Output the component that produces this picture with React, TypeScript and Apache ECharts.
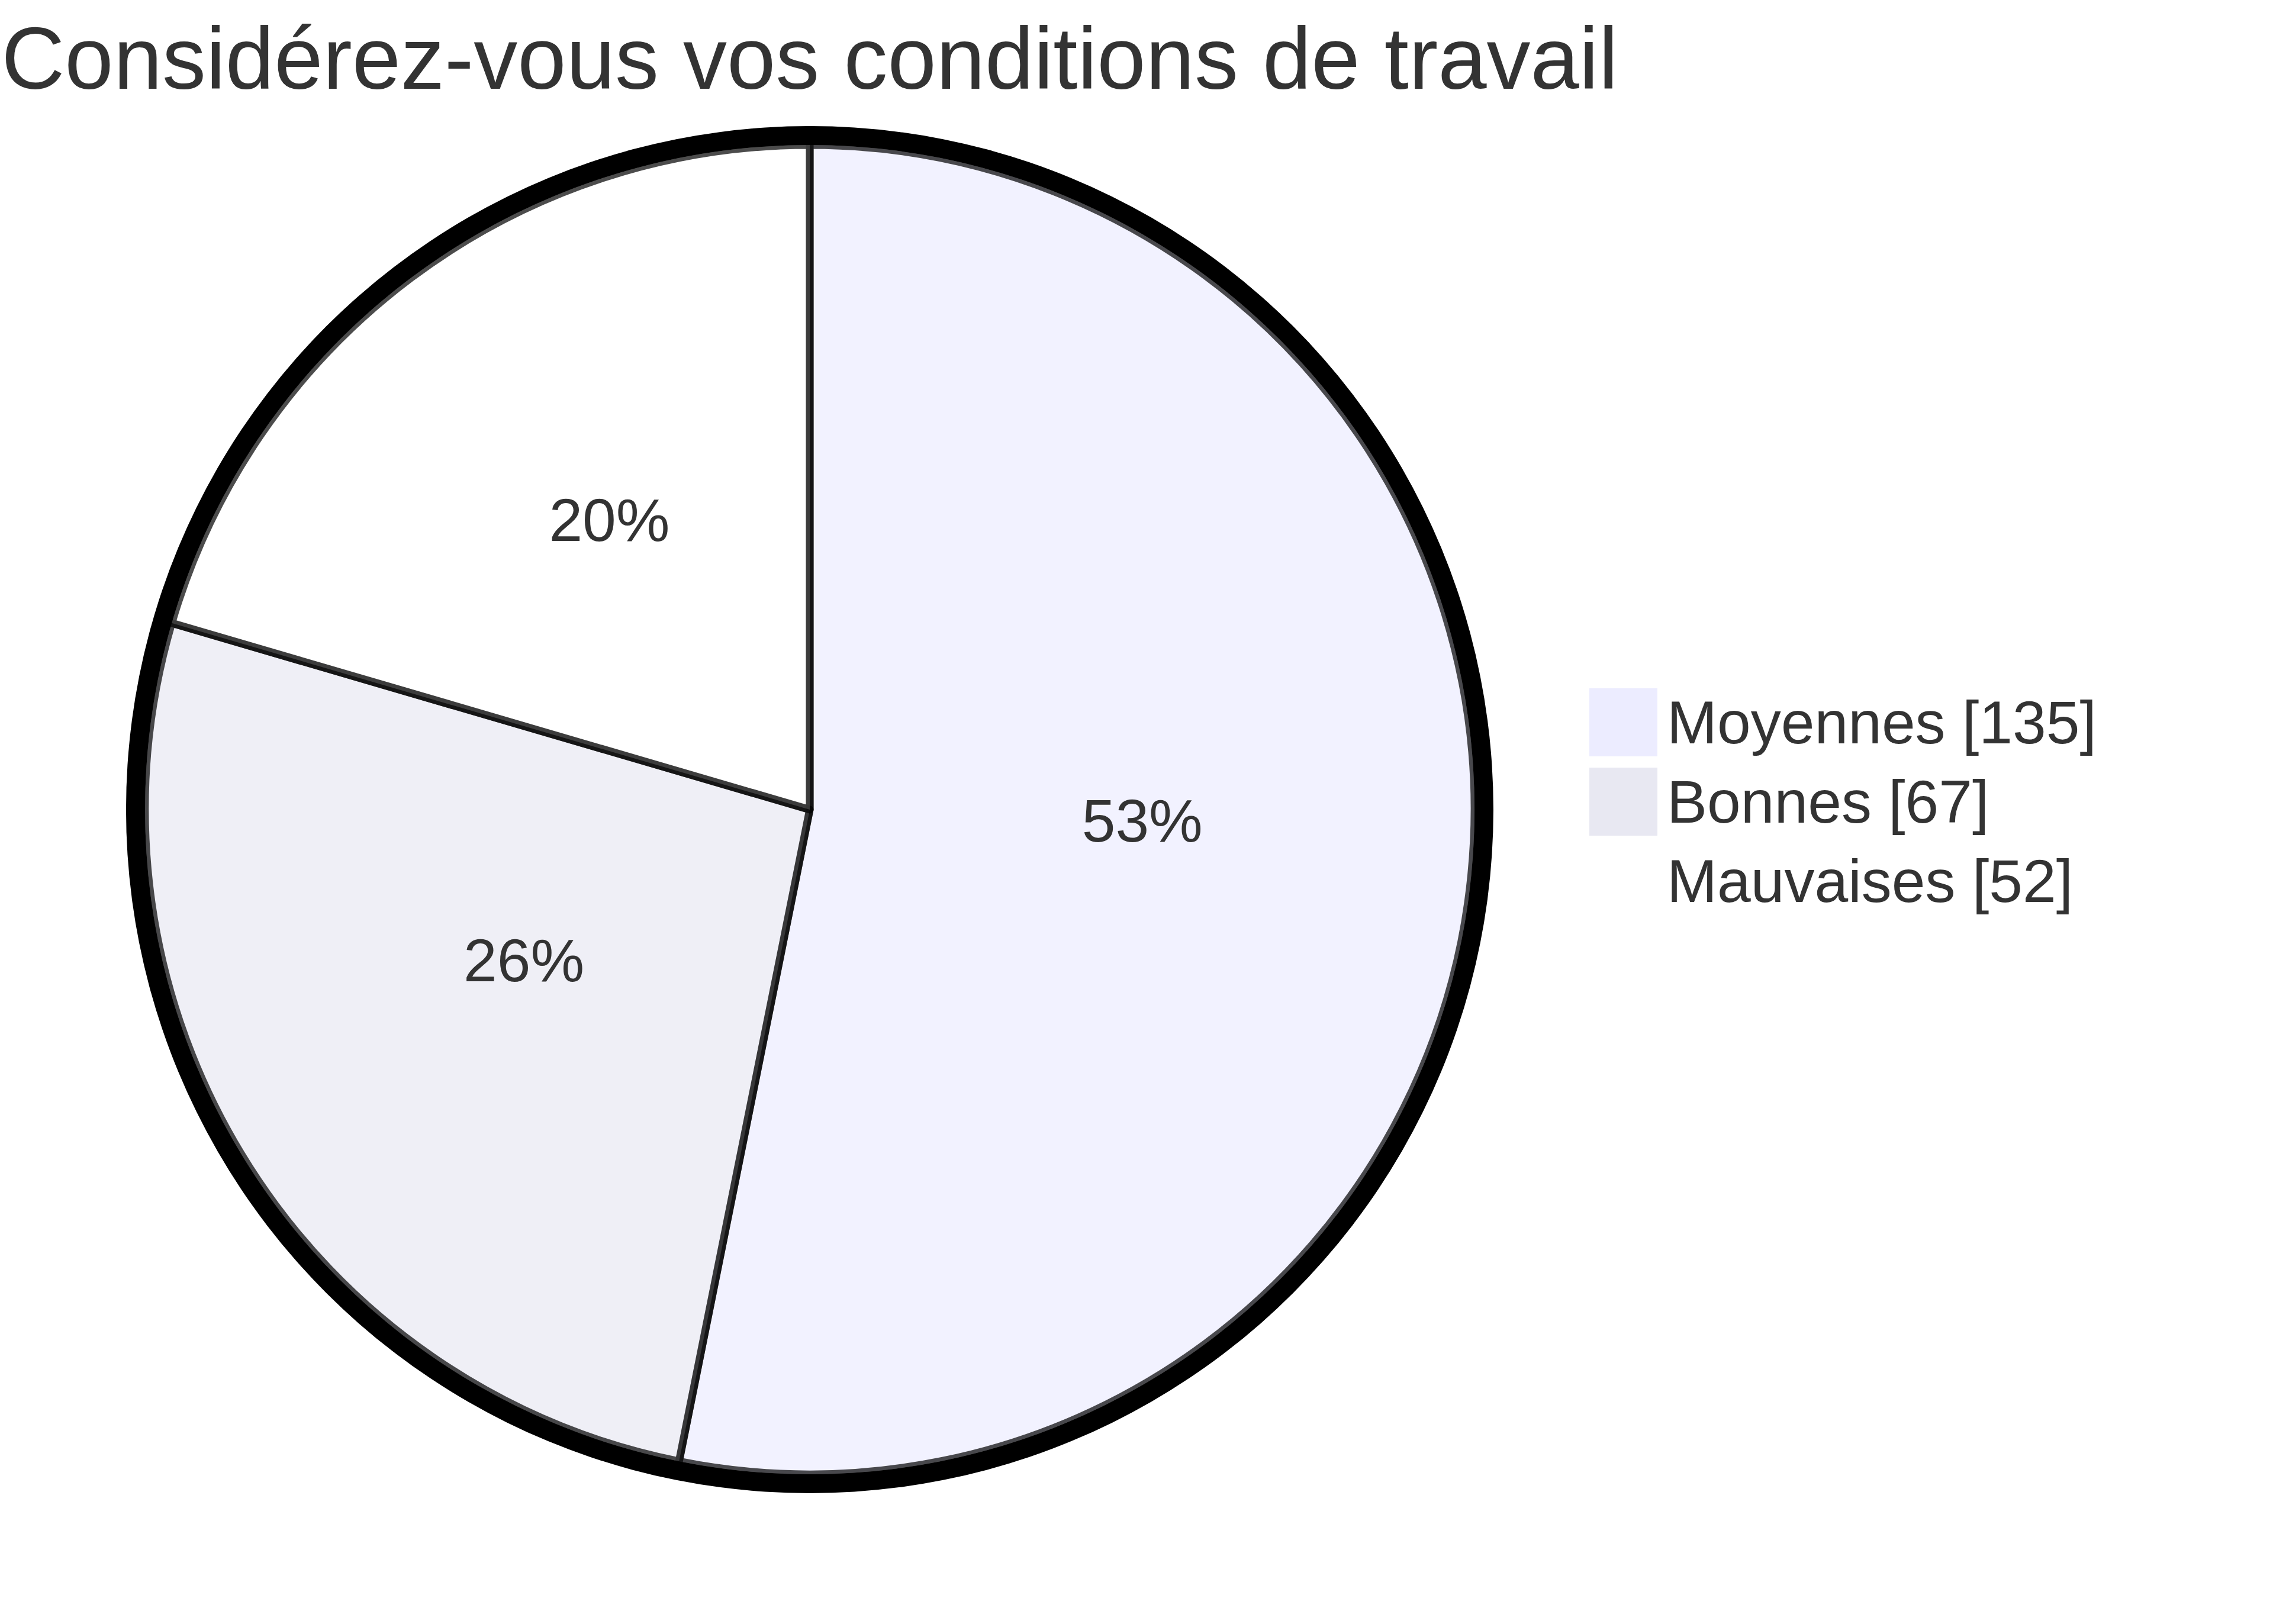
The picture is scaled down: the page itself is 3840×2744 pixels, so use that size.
import React, { useEffect, useRef } from "react";
import * as echarts from "echarts";

const TITLE = "Considérez-vous vos conditions de travail";
const categories = ["Moyennes", "Bonnes", "Mauvaises"];
const values = [135, 67, 52];
const colors = ["#ECECFF", "#E8E8F2", "#FFFFFF"];

const FONT = "'Liberation Sans', Arial, sans-serif";

export default function App() {
  const ref = useRef<HTMLDivElement>(null);
  useEffect(() => {
    if (!ref.current) return;
    const chart = echarts.init(ref.current, null, { renderer: "svg" });
    const cx = 1368;
    const cy = 1368;
    const r = 1123;
    const data = categories.map((name, i) => ({
      name,
      value: values[i],
      itemStyle: { color: colors[i] },
    }));
    chart.setOption({
      animation: false,
      backgroundColor: "#ffffff",
      textStyle: { fontFamily: FONT },
      graphic: [
        {
          type: "text",
          x: cx,
          y: 98,
          style: {
            text: TITLE,
            fontSize: 148,
            fontFamily: FONT,
            fill: "#333333",
            textAlign: "center",
            textVerticalAlign: "middle",
          },
        },
      ],
      legend: {
        data: categories,
        orient: "vertical",
        left: 2680,
        top: 1158,
        itemWidth: 115,
        itemHeight: 115,
        itemGap: 19,
        icon: "rect",
        selectedMode: false,
        itemStyle: { opacity: 1, borderWidth: 0 },
        textStyle: {
          fontSize: 102,
          color: "#333333",
          fontFamily: FONT,
          padding: [0, 0, 28, 11],
        },
        formatter: (name: string) => {
          const i = categories.indexOf(name);
          return name + " [" + values[i] + "]";
        },
      },
      series: [
        {
          type: "pie",
          center: [cx, cy],
          radius: [r, r + 32],
          silent: true,
          startAngle: 90,
          label: { show: false },
          labelLine: { show: false },
          itemStyle: { color: "#000000", borderWidth: 0 },
          data: [{ name: "ring", value: 1 }],
        },
        {
          type: "pie",
          center: [cx, cy],
          radius: [0, r],
          startAngle: 90,
          clockwise: true,
          avoidLabelOverlap: false,
          itemStyle: { borderColor: "#000000", borderWidth: 13, opacity: 0.7 },
          label: {
            show: true,
            position: "inside",
            fontSize: 102,
            color: "#333333",
            opacity: 1,
            fontFamily: FONT,
            offset: [0, -37],
            formatter: (p: any) => Math.round(p.percent) + "%",
          },
          labelLine: { show: false },
          emphasis: { disabled: true },
          data,
        },
      ],
    });
    return () => chart.dispose();
  }, []);
  return (
    <div
      ref={ref}
      style={{ position: "fixed", left: 0, top: 0, width: 3840, height: 2744 }}
    />
  );
}
